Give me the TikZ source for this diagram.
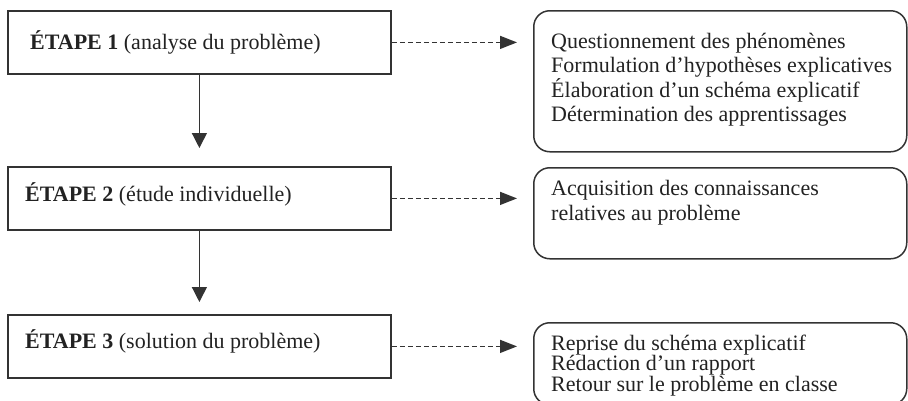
\documentclass[tikz,border=0pt]{standalone}
\usepackage{fontspec}
\setmainfont{Liberation Serif}
\usetikzlibrary{arrows.meta,calc}
\definecolor{linec}{HTML}{333333}
\definecolor{textc}{HTML}{222222}
\begin{document}
\begin{tikzpicture}[x=1pt,y=-1pt,
  stagebox/.style={draw=linec, line width=1.8pt, minimum width=383pt, minimum height=63pt, anchor=north west, inner sep=0pt},
  infobox/.style={draw=linec, line width=1.5pt, rounded corners=16pt, minimum width=373pt, anchor=north west, inner sep=0pt},
  txt/.style={text=textc, font=\fontsize{22}{24.5}\selectfont, anchor=base west, inner sep=0pt},
  flow/.style={draw=linec, line width=1.3pt, -{Triangle[length=15pt,width=15pt]}},
  dashflow/.style={draw=linec, line width=1.4pt, dash pattern=on 5pt off 3pt, -{Triangle[length=17pt,width=13pt]}}]
\useasboundingbox (0,0) rectangle (908,400);
\clip (0,0) rectangle (908,400);
% left stages
\node[stagebox] (s1) at (7,10) {};
\node[stagebox] (s2) at (7,166) {};
\node[stagebox] (s3) at (7,314) {};
\node[txt] (t1) at (30,49) {\textbf{ÉTAPE 1} (analyse du problème)};
\node[txt] (t2) at (25,201) {\textbf{ÉTAPE 2} (étude individuelle)};
\node[txt] (t3) at (25,348) {\textbf{ÉTAPE 3} (solution du problème)};
% right boxes
\node[infobox, minimum height=141pt] (ra) at (533,10) {};
\node[infobox, minimum height=91pt] (rb) at (533,167) {};
\node[infobox, minimum height=82pt] (rc) at (533,322) {};
\node[txt] (qa) at (551,48) {\vtop{\baselineskip=24.5pt
  \hbox{Questionnement des phénomènes}
  \hbox{Formulation d’hypothèses explicatives}
  \hbox{Élaboration d’un schéma explicatif}
  \hbox{Détermination des apprentissages}}};
\node[txt] (qb) at (551,195) {\vtop{\baselineskip=25pt
  \hbox{Acquisition des connaissances}
  \hbox{relatives au problème}}};
\node[txt] (qc) at (551,350) {\vtop{\baselineskip=20.5pt
  \hbox{Reprise du schéma explicatif}
  \hbox{Rédaction d’un rapport}
  \hbox{Retour sur le problème en classe}}};
% connectors
\draw[flow] (s1.south) -- ($(s2.north)+(0,-18)$);
\draw[flow] (s2.south) -- ($(s3.north)+(0,-12)$);
\draw[dashflow] (s1.east) -- ($(ra.west |- s1.east)+(-16,0)$);
\draw[dashflow] (s2.east) -- ($(rb.west |- s2.east)+(-16,0)$);
\draw[dashflow] (s3.east) -- ($(rc.west |- s3.east)+(-16,0)$);
\end{tikzpicture}
\end{document}
